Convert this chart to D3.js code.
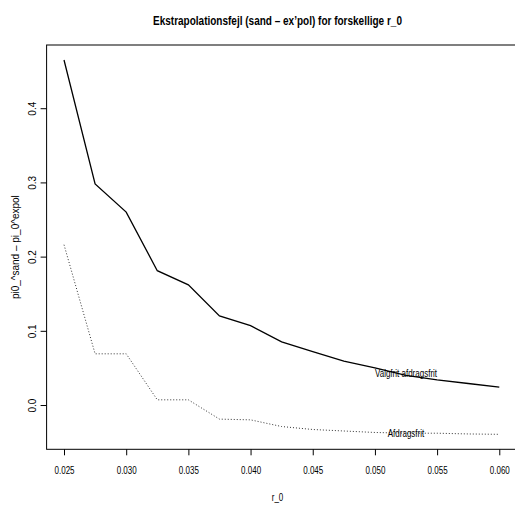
<!DOCTYPE html>
<html>
<head>
<meta charset="utf-8">
<script src="https://cdn.jsdelivr.net/npm/d3@7"></script>
<style>
	body { margin: 0; background: #fff; }
	svg { display: block; }
	text { font-family: 'Liberation Sans', Arial, sans-serif; fill: #000; }
</style>
</head>
<body>
<svg></svg>
<script>
// r_0 values and the two error series
const r0 = [0.025, 0.0275, 0.030, 0.0325, 0.035, 0.0375, 0.040, 0.0425, 0.045, 0.0475, 0.050, 0.0525, 0.055, 0.0575, 0.060]
const valgfrit = [0.465, 0.298, 0.260, 0.181, 0.162, 0.120, 0.107, 0.085, 0.072, 0.059, 0.050, 0.040, 0.034, 0.029, 0.024]
const afdragsfrit = [0.216, 0.069, 0.069, 0.007, 0.007, -0.019, -0.020, -0.029, -0.033, -0.035, -0.037, -0.038, -0.038, -0.039, -0.0395]
const xTicks = [0.025, 0.030, 0.035, 0.040, 0.045, 0.050, 0.055, 0.060]
const yTicks = [0.0, 0.1, 0.2, 0.3, 0.4]
const labelAt = 11 // index where the curve labels sit

let width = 515, height = 505
let mLeft = 46.6, mRight = 516.7, mTop = 45, mBottom = 449.3

// R style 4% padding on both axes
const pad = ([a, b]) => [a - (b - a) * 0.04, b + (b - a) * 0.04]

let scX = d3.scaleLinear()
	.domain(pad(d3.extent(r0)))
	.range([mLeft, mRight])

let scY = d3.scaleLinear()
	.domain(pad(d3.extent(valgfrit.concat(afdragsfrit))))
	.range([mBottom, mTop])

let svg = d3.select('svg')
	.attr('width', width).attr('height', height)

// plot box
svg.append('rect')
	.attr('x', mLeft).attr('y', mTop)
	.attr('width', mRight - mLeft).attr('height', mBottom - mTop)
	.attr('fill', 'none').attr('stroke', '#000').attr('stroke-width', 1)

let xAxis = svg.append('g')
	.attr('transform', `translate(0, ${mBottom})`)
	.call(d3.axisBottom(scX).tickValues(xTicks).tickFormat(d3.format('.3f')).tickSize(6).tickSizeOuter(0))
xAxis.select('.domain').remove()
xAxis.selectAll('text')
	.attr('y', 21).attr('dy', '0.35em')
	.attr('class', 'narrow')
	.style('font-size', '10px')

let yAxis = svg.append('g')
	.attr('transform', `translate(${mLeft}, 0)`)
	.call(d3.axisLeft(scY).tickValues(yTicks).tickFormat(d3.format('.1f')).tickSize(6).tickSizeOuter(0))
yAxis.select('.domain').remove()
yAxis.selectAll('text')
	.attr('x', null).attr('dy', null)
	.attr('text-anchor', 'middle')
	.attr('transform', 'translate(-10.5, 0) rotate(-90)')
	.style('font-size', '10px')

svg.selectAll('.tick line').attr('stroke', '#000')

let lineMkr = d3.line().x((d, i) => scX(r0[i])).y(d => scY(d))

svg.append('path')
	.attr('fill', 'none')
	.attr('stroke', '#000')
	.attr('stroke-width', 1.3)
	.attr('d', lineMkr(valgfrit))

svg.append('path')
	.attr('fill', 'none')
	.attr('stroke', '#333')
	.attr('stroke-width', 1)
	.attr('stroke-dasharray', '1 2')
	.attr('d', lineMkr(afdragsfrit))

// curve labels, centred on a data point like R's text()
svg.append('text')
	.attr('class', 'narrow')
	.attr('x', scX(r0[labelAt])).attr('y', scY(valgfrit[labelAt]))
	.attr('dy', '0.15em').attr('text-anchor', 'middle')
	.style('font-size', '10px')
	.text('Valgfrit afdragsfrit')

svg.append('text')
	.attr('class', 'narrow')
	.attr('x', scX(r0[labelAt])).attr('y', scY(afdragsfrit[labelAt]))
	.attr('dy', '0.35em').attr('text-anchor', 'middle')
	.style('font-size', '10px')
	.text('Afdragsfrit')

// titles
svg.append('text')
	.attr('class', 'narrow')
	.attr('x', 277.5).attr('y', 25)
	.attr('text-anchor', 'middle')
	.style('font-size', '12.5px').style('font-weight', 'bold')
	.text('Ekstrapolationsfejl (sand \u2013 ex\u2019pol) for forskellige r_0')

svg.append('text')
	.attr('class', 'narrow')
	.attr('x', 277.5).attr('y', 501)
	.attr('text-anchor', 'middle')
	.style('font-size', '10px')
	.text('r_0')

svg.append('text')
	.attr('transform', `translate(19, ${(mTop + mBottom) / 2}) rotate(-90)`)
	.attr('text-anchor', 'middle')
	.style('font-size', '10px')
	.text('pi0_^sand \u2013 pi_0^expol')

// horizontal text in the original is set in a condensed face
svg.selectAll('text.narrow').each(function () {
	let len = this.getComputedTextLength()
	d3.select(this).attr('textLength', len * 0.8).attr('lengthAdjust', 'spacingAndGlyphs')
})
</script>
</body>
</html>
